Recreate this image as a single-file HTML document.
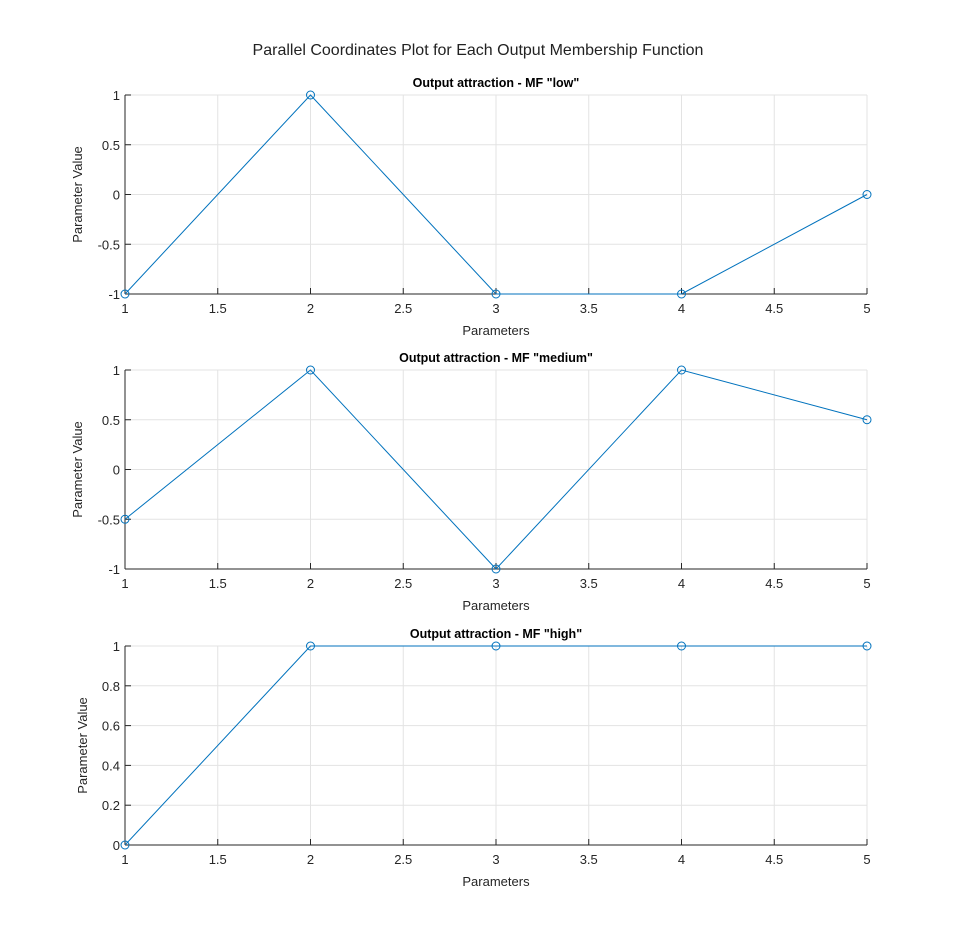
<!DOCTYPE html>
<html><head><meta charset="utf-8"><style>
html,body{margin:0;padding:0;background:#fff;}
svg{display:block;font-family:"Liberation Sans",sans-serif;}
</style></head><body>
<svg id="chart" width="958" height="946" viewBox="0 0 958 946" xmlns="http://www.w3.org/2000/svg">
<text x="478" y="55" text-anchor="middle" font-size="16" fill="#222">Parallel Coordinates Plot for Each Output Membership Function</text>
</svg>
<script>
const params = [1, 2, 3, 4, 5];
const xTicks = [1, 1.5, 2, 2.5, 3, 3.5, 4, 4.5, 5];
const lowValues = [-1, 1, -1, -1, 0];
const mediumValues = [-0.5, 1, -1, 1, 0.5];
const highValues = [0, 1, 1, 1, 1];
const yTicksA = [-1, -0.5, 0, 0.5, 1];
const yTicksB = [0, 0.2, 0.4, 0.6, 0.8, 1];
const titles = ['Output attraction - MF "low"', 'Output attraction - MF "medium"', 'Output attraction - MF "high"'];

const NS = 'http://www.w3.org/2000/svg';
const svg = document.getElementById('chart');
function mk(tag, attrs, parent) {
  const e = document.createElementNS(NS, tag);
  for (const k in attrs) e.setAttribute(k, attrs[k]);
  (parent || svg).appendChild(e);
  return e;
}
const panels = [
  {top: 95, bottom: 294, vals: lowValues, yt: yTicksA, ymin: -1, ymax: 1, title: titles[0], id: 'low'},
  {top: 370, bottom: 569, vals: mediumValues, yt: yTicksA, ymin: -1, ymax: 1, title: titles[1], id: 'medium'},
  {top: 646, bottom: 845, vals: highValues, yt: yTicksB, ymin: 0, ymax: 1, title: titles[2], id: 'high'}
];
const L = 125, R = 867;
panels.forEach(p => {
  const g = mk('g', {});
  
  
  const xs = v => L + (v - 1) / 4 * (R - L);
  const ys = v => p.bottom - (v - p.ymin) / (p.ymax - p.ymin) * (p.bottom - p.top);
  xTicks.forEach(t => {
    const gl = mk('line', {x1: xs(t), x2: xs(t), y1: p.top, y2: p.bottom, stroke: '#e3e3e3', 'stroke-width': 1}, g);
    
    
    mk('line', {x1: xs(t), x2: xs(t), y1: p.bottom, y2: p.bottom - 6, stroke: '#262626'}, g);
    const tx = mk('text', {x: xs(t), y: p.bottom + 19, 'text-anchor': 'middle', 'font-size': 13, fill: '#262626'}, g);
    tx.textContent = t;
    
    
  });
  p.yt.forEach(t => {
    const gl = mk('line', {x1: L, x2: R, y1: ys(t), y2: ys(t), stroke: '#e3e3e3', 'stroke-width': 1}, g);
    
    
    mk('line', {x1: L, x2: L + 6, y1: ys(t), y2: ys(t), stroke: '#262626'}, g);
    const tx = mk('text', {x: L - 5, y: ys(t) + 5, 'text-anchor': 'end', 'font-size': 13, fill: '#262626'}, g);
    tx.textContent = t;
    
    
  });
  mk('line', {x1: L, x2: L, y1: p.top, y2: p.bottom, stroke: '#262626'}, g);
  mk('line', {x1: L, x2: R, y1: p.bottom, y2: p.bottom, stroke: '#262626'}, g);
  const title = mk('text', {x: (L + R) / 2, y: p.top - 8, 'text-anchor': 'middle', 'font-size': 12.5, 'font-weight': 'bold', fill: '#000'}, g);
  title.textContent = p.title;
  
  
  const xl = mk('text', {x: (L + R) / 2, y: p.bottom + 41, 'text-anchor': 'middle', 'font-size': 13, fill: '#262626'}, g);
  xl.textContent = 'Parameters';
  
  
  const cy = (p.top + p.bottom) / 2;
  const yx = p.id === 'high' ? 87 : 82;
  const yl = mk('text', {x: yx, y: cy, 'text-anchor': 'middle', 'font-size': 13, fill: '#262626', transform: `rotate(-90 ${yx} ${cy})`}, g);
  yl.textContent = 'Parameter Value';
  
  
  const pts = params.map((x, i) => xs(x) + ',' + ys(p.vals[i])).join(' ');
  const line = mk('polyline', {points: pts, fill: 'none', stroke: '#0072bd', 'stroke-width': 1}, g);
  
  
  params.forEach((x, i) => {
    const c = mk('circle', {cx: xs(x), cy: ys(p.vals[i]), r: 4, fill: 'none', stroke: '#0072bd', 'stroke-width': 1}, g);
    
    
  });
});
</script>
</body></html>
